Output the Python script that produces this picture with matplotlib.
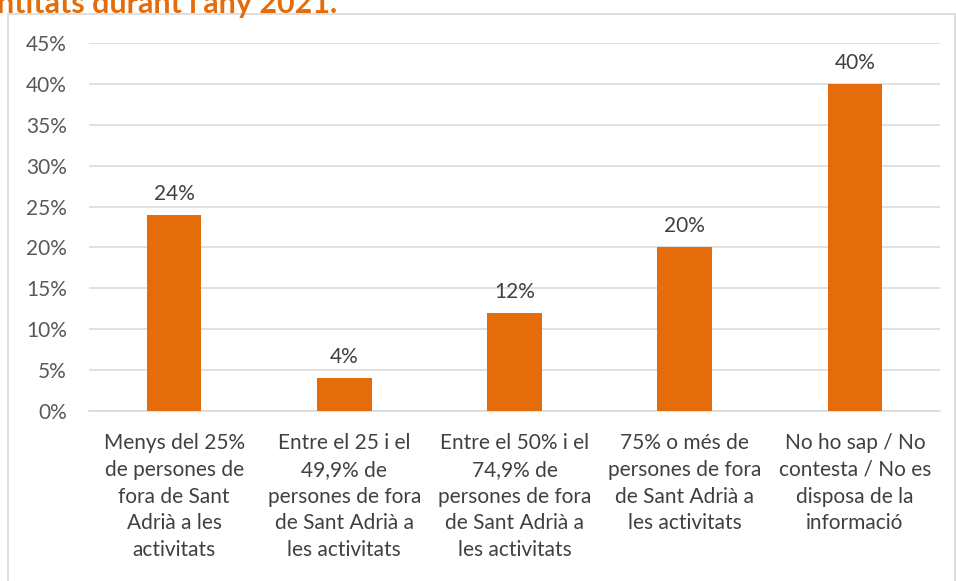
import matplotlib
matplotlib.use("Agg")
import matplotlib.pyplot as plt
from matplotlib.patches import Rectangle

categories = [
    "Menys del 25%\nde persones de\nfora de Sant\nAdrià a les\nactivitats",
    "Entre el 25 i el\n49,9% de\npersones de fora\nde Sant Adrià a\nles activitats",
    "Entre el 50% i el\n74,9% de\npersones de fora\nde Sant Adrià a\nles activitats",
    "75% o més de\npersones de fora\nde Sant Adrià a\nles activitats",
    "No ho sap / No\ncontesta / No es\ndisposa de la\ninformació",
]
values = [0.24, 0.04, 0.12, 0.20, 0.40]
yticks = [0, 0.05, 0.10, 0.15, 0.20, 0.25, 0.30, 0.35, 0.40, 0.45]
title = "ntitats durant l'any 2021."

plt.rcParams['font.family'] = ['Lato', 'DejaVu Sans']

W, H = 956, 581
fig = plt.figure(figsize=(W / 100, H / 100), dpi=100)
fig.patch.set_facecolor('white')

# chart border
fig.add_artist(Rectangle((8 / W, -0.01), (W - 8) / W - 0.001, 1 - 14 / H + 0.01,
                         transform=fig.transFigure, fill=False,
                         edgecolor='#d9d9d9', linewidth=1.2))

# cut-off title at top
fig.text(-3 / W, 1 - 13 / H, title, color='#E46C0A', fontsize=22, fontweight='bold',
         ha='left', va='baseline')

ax = fig.add_axes([89 / W, 1 - 411 / H, (940 - 89) / W, (411 - 43) / H])
x = list(range(len(values)))
ax.bar(x, values, width=0.32, color='#E46C0A', zorder=3)
ax.set_xlim(-0.5, len(values) - 0.5)
ax.set_ylim(0, 0.45)
ax.set_yticks(yticks)
ax.set_yticklabels([f"{int(round(v * 100))}%" for v in yticks])
ax.yaxis.grid(True, color='#d9d9d9', linewidth=1.1, zorder=0)
ax.set_axisbelow(True)
for s in ['top', 'right', 'left']:
    ax.spines[s].set_visible(False)
ax.spines['bottom'].set_color('#d9d9d9')
ax.spines['bottom'].set_linewidth(1.1)
ax.tick_params(axis='both', length=0, colors='#595959', labelsize=15)
ax.tick_params(axis='y', pad=16)
ax.tick_params(axis='x', pad=16)
ax.set_xticks(x)
ax.set_xticklabels(categories, linespacing=1.42, color='#404040')

for xi, v in zip(x, values):
    ax.annotate(f"{int(round(v * 100))}%", (xi, v), xytext=(0, 8),
                textcoords='offset points', ha='center', va='bottom',
                fontsize=15, color='#404040')

fig.savefig('out.png', dpi=100, facecolor='white')
